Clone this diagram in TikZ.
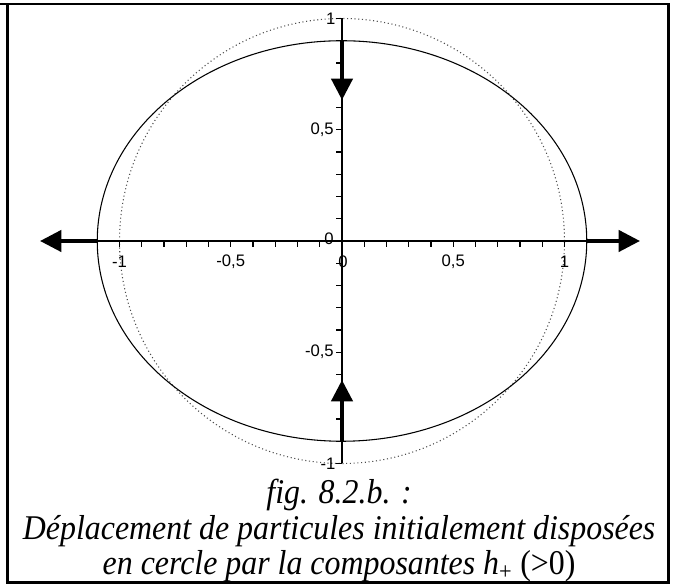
\documentclass[tikz,border=0pt]{standalone}
\usepackage{fontspec}
\setmainfont{Liberation Serif}
\setsansfont{Liberation Sans}
\usetikzlibrary{arrows.meta}
\begin{document}
\begin{tikzpicture}[x=166.875pt,y=166.875pt,font=\sffamily\fontsize{12.5}{14}\selectfont]
  \definecolor{dotgrey}{gray}{0.3}
  \tikzset{
    axisline/.style={line width=0.8pt},
    tickmark/.style={line width=0.8pt},
    shiftarrow/.style={line width=2.6pt,-{Triangle[length=16pt,width=16pt]}},
    caption/.style={font=\rmfamily\itshape\fontsize{26}{30}\selectfont,
      transform shape,xscale=0.92}
  }
  %% page: 674 x 584 px, origin of the plot at px (342,241), 1 unit = 222.5 px
  \useasboundingbox (-1.5371,-1.5416) rectangle (1.4921,1.0831);
  \draw[line width=2.2pt] (-1.5371,1.0652) -- (1.4674,1.0652)
    -- (1.4674,-1.5348) -- (-1.5034,-1.5348) -- (-1.5034,1.0652);

  %% the ring before (dotted) and after the wave (solid)
  \draw[dotted,dotgrey,line width=0.8pt] (0,0) circle (1);
  \draw[line width=0.8pt] (0,0) ellipse (1.1 and 0.9);

  %% axes with ticks every 0.1
  \coordinate (xl) at (-1.1,0);
  \coordinate (xr) at (1.1,0);
  \coordinate (yt) at (0,1);
  \coordinate (yb) at (0,-1);
  \draw[axisline] (xl) -- (xr);
  \draw[axisline] (yt) -- (yb);
  \foreach \k in {-10,...,10}
    \draw[tickmark] (\k/10,0) -- (\k/10,-0.027);
  \foreach \k in {-10,...,10}
    \draw[tickmark] (0,\k/10) -- (-0.027,\k/10);

  \node (lxa) at (-1,-0.092) {-1};
  \node (lxb) at (-0.5,-0.092) {-0,5};
  \node (lxc) at (0.005,-0.094) {0};
  \node (lxd) at (0.5,-0.092) {0,5};
  \node (lxe) at (1,-0.092) {1};
  \node[anchor=east,inner sep=1pt] (lya) at (-0.022,1) {1};
  \node[anchor=east,inner sep=1pt] (lyb) at (-0.03,0.5) {0,5};
  \node[anchor=east,inner sep=1pt] (lyc) at (-0.03,0.012) {0};
  \node[anchor=east,inner sep=1pt] (lyd) at (-0.03,-0.5) {-0,5};
  \node[anchor=east,inner sep=1pt] (lye) at (-0.022,-1) {-1};

  %% displacement arrows
  \coordinate (et) at (0,0.9);
  \coordinate (eb) at (0,-0.9);
  \coordinate (tipl) at (-1.357,0);
  \coordinate (tipr) at (1.339,0);
  \coordinate (tipt) at (0,0.634);
  \coordinate (tipb) at (0,-0.625);
  \draw[shiftarrow] (xl) -- (tipl);
  \draw[shiftarrow] (xr) -- (tipr);
  \draw[shiftarrow] (et) -- (tipt);
  \draw[shiftarrow] (eb) -- (tipb);

  %% caption, three lines
  \node[caption] (capa) at (-0.013,-1.143) {fig. 8.2.b. :};
  \node[caption] (capb) at (-0.013,-1.303) {Déplacement de particules initialement disposées};
  \node[caption] (capc) at (-0.013,-1.461)
    {en cercle par la composantes \textit{h}{\upshape\textsubscript{+}} {\upshape(>0)}};
\end{tikzpicture}
\end{document}
